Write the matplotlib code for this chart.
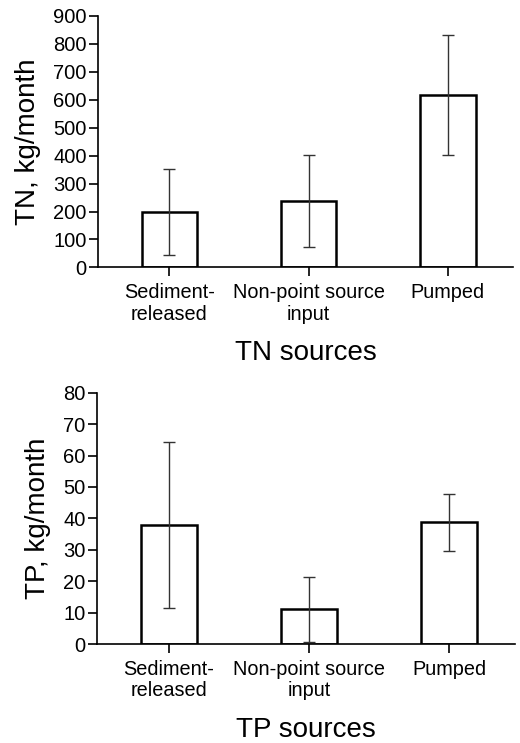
import numpy as np
import matplotlib
matplotlib.use("Agg")
import matplotlib.pyplot as plt

plt.rcParams['font.family'] = ['Liberation Sans', 'DejaVu Sans']

categories = ['Sediment-\nreleased', 'Non-point source\ninput', 'Pumped']

tn_mean = [198, 238, 616]
tn_err = [153, 164, 213]

tp_mean = [37.9, 11.0, 38.7]
tp_err = [26.3, 10.4, 9.0]


def bar_panel(ax, means, errs, ylim, yticks, ylabel, xlabel):
    x = np.arange(len(categories))
    ax.bar(x, means, width=0.4, color='white', edgecolor='black', linewidth=1.8, zorder=2)
    ax.errorbar(x, means, yerr=errs, fmt='none', ecolor='#333333', elinewidth=1.0,
                capsize=4, capthick=1.0, zorder=3)
    ax.set_xlim(-0.515, 2.47)
    ax.set_ylim(*ylim)
    ax.set_yticks(yticks)
    ax.set_xticks(x)
    ax.set_xticklabels(categories, fontsize=14.3, linespacing=1.15)
    ax.tick_params(axis='y', labelsize=14.5, length=6.5, width=1.2, direction='out', pad=1.5)
    ax.tick_params(axis='x', length=6.5, width=1.2, direction='out', pad=5)
    ax.spines['top'].set_visible(False)
    ax.spines['right'].set_visible(False)
    ax.spines['left'].set_linewidth(1.2)
    ax.spines['bottom'].set_linewidth(1.2)
    ax.set_ylabel(ylabel, fontsize=20, labelpad=9)
    ax.set_xlabel(xlabel, fontsize=20, labelpad=12)


fig = plt.figure(figsize=(5.2, 7.43), dpi=100)
ax1 = fig.add_axes([0.188, 0.640, 0.799, 0.339])
ax2 = fig.add_axes([0.186, 0.1332, 0.804, 0.3383])

bar_panel(ax1, tn_mean, tn_err, (0, 900), np.arange(0, 901, 100), 'TN, kg/month', 'TN sources')
bar_panel(ax2, tp_mean, tp_err, (0, 80), np.arange(0, 81, 10), 'TP, kg/month', 'TP sources')

fig.savefig('out.png', dpi=100)
